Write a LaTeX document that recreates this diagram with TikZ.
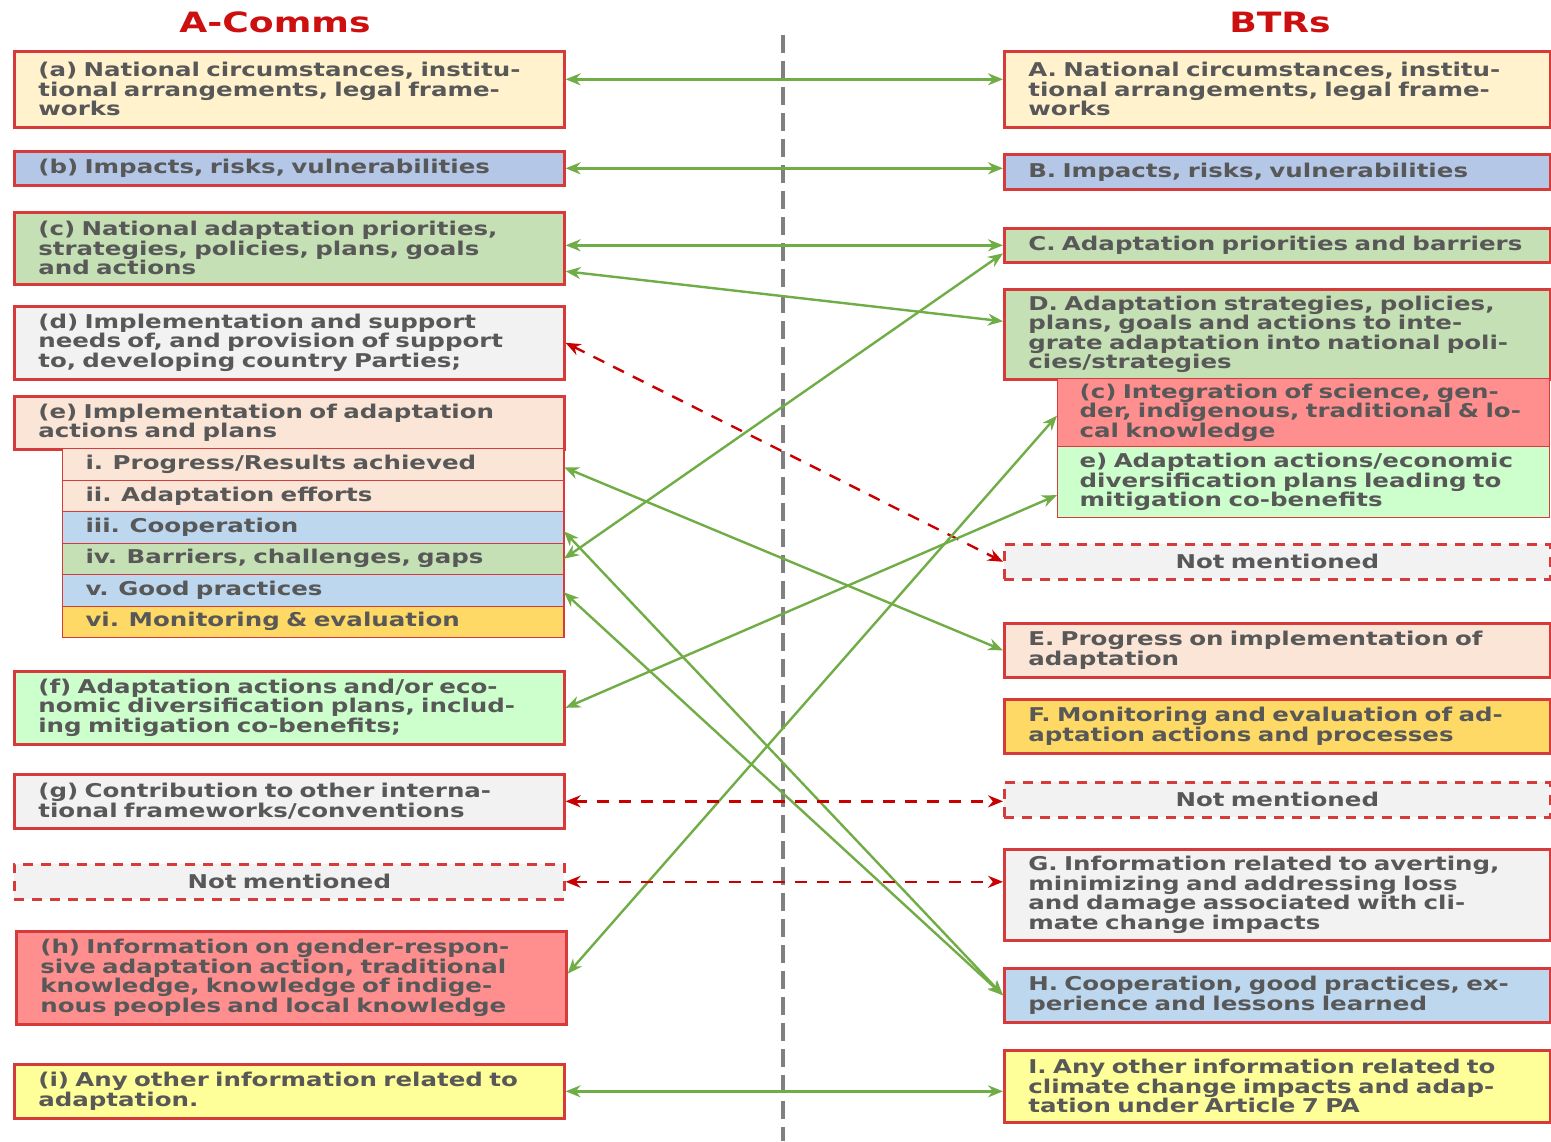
\documentclass[tikz,border=0pt]{standalone}
\usepackage{fontspec}
\usepackage{xcolor}
\usepackage{tikz}
\usetikzlibrary{positioning,arrows.meta,calc}
\newfontfamily\diagfont[FakeStretch=1.29]{DejaVu Sans}
\definecolor{boxred}{RGB}{214, 58, 58}
\definecolor{linkred}{RGB}{200, 0, 0}
\definecolor{linkgreen}{RGB}{112, 173, 71}
\definecolor{textgray}{RGB}{88, 88, 88}
\definecolor{titlered}{RGB}{204, 16, 16}
\definecolor{divgray}{RGB}{128, 128, 128}
\definecolor{creamfill}{RGB}{255, 242, 204}
\definecolor{bluefill}{RGB}{180, 199, 231}
\definecolor{skyfill}{RGB}{189, 215, 238}
\definecolor{greenfill}{RGB}{197, 224, 180}
\definecolor{mintfill}{RGB}{204, 255, 204}
\definecolor{grayfill}{RGB}{242, 242, 242}
\definecolor{peachfill}{RGB}{251, 229, 214}
\definecolor{goldfill}{RGB}{255, 217, 102}
\definecolor{pinkfill}{RGB}{255, 143, 143}
\definecolor{yellowfill}{RGB}{255, 255, 153}
\tikzset{
    item/.style={rectangle, draw=boxred, line width=1.3pt, text=textgray, anchor=north west,
        align=left, inner xsep=12pt, inner ysep=1pt,
        font=\diagfont\bfseries\fontsize{9.5}{9.75}\selectfont},
    left item/.style={item, text width=251pt},
    left sub/.style={item, line width=0.5pt, inner xsep=11.5pt, text width=227.5pt, minimum height=15.75pt},
    right item/.style={item, text width=249pt},
    right sub/.style={item, line width=0.6pt, inner xsep=11pt, text width=224pt},
    not mentioned/.style={fill=grayfill, align=center, dash pattern=on 5pt off 4pt},
    title/.style={text=titlered, font=\diagfont\bfseries\fontsize{14}{16}\selectfont},
    link/.style={{Stealth[length=7.5pt,width=6pt]}-{Stealth[length=7.5pt,width=6pt]}, line width=1.2pt, linkgreen},
    no link/.style={link, linkred, dash pattern=on 6pt off 5pt},
    divider/.style={divgray, line width=1.6pt, dash pattern=on 9pt off 4pt}
}
\begin{document}
\begin{tikzpicture}[x=0.5pt, y=-0.5pt]
\useasboundingbox (0,0) rectangle (1551,1141);

% column titles and divider
\node[title] (acomms) at (275,22) {A-Comms};
\node[title] (btrs) at (1280,22) {BTRs};
\coordinate (divtop) at (783,35);
\coordinate (divbot) at (783,1141);
\draw[divider] (divtop) -- (divbot);

% A-Comms
\node[left item, fill=creamfill, minimum height=38pt] (ca) at (13,50) {(a) National circumstances, institu-\\tional arrangements, legal frame-\\works};
\node[left item, fill=bluefill, minimum height=17pt] (cb) at (13,150) {(b) Impacts, risks, vulnerabilities};
\node[left item, fill=greenfill, minimum height=36pt] (cc) at (13,211) {(c) National adaptation priorities,\\strategies, policies, plans, goals\\and actions};
\node[left item, fill=grayfill, minimum height=36.5pt] (cd) at (13,305) {(d) Implementation and support\\needs of, and provision of support\\to, developing country Parties;};
\node[left item, fill=peachfill, minimum height=26.5pt] (ce) at (13,395) {(e) Implementation of adaptation\\actions and plans};
\node[left sub, fill=peachfill] (ce1) at (62,448) {i. Progress/Results achieved};
\node[left sub, fill=peachfill] (ce2) at (62,479.5) {ii. Adaptation efforts};
\node[left sub, fill=skyfill] (ce3) at (62,511) {iii. Cooperation};
\node[left sub, fill=greenfill] (ce4) at (62,542.5) {iv. Barriers, challenges, gaps};
\node[left sub, fill=skyfill] (ce5) at (62,574) {v. Good practices};
\node[left sub, fill=goldfill] (ce6) at (62,605.5) {vi. Monitoring \& evaluation};
\draw[boxred, line width=1.3pt] (ce1.north east) -- (ce6.south east);
\node[left item, fill=mintfill, minimum height=36.5pt] (cf) at (13,670) {(f) Adaptation actions and/or eco-\\nomic diversification plans, includ-\\ing mitigation co-benefits;};
\node[left item, fill=grayfill, minimum height=27pt] (cg) at (13,773) {(g) Contribution to other interna-\\tional frameworks/conventions};
\node[left item, not mentioned, minimum height=17.5pt] (cnm) at (13,863) {Not mentioned};
\node[left item, fill=pinkfill, minimum height=46.5pt] (ch) at (15,930) {(h) Information on gender-respon-\\sive adaptation action, traditional\\knowledge, knowledge of indige-\\nous peoples and local knowledge};
\node[left item, fill=yellowfill, minimum height=27pt] (ci) at (13,1063) {(i) Any other information related to\\adaptation.};

% BTRs
\node[right item, fill=creamfill, minimum height=38pt] (bA) at (1003,50) {A. National circumstances, institu-\\tional arrangements, legal frame-\\works};
\node[right item, fill=bluefill, minimum height=17.5pt] (bB) at (1003,153) {B. Impacts, risks, vulnerabilities};
\node[right item, fill=greenfill, minimum height=17pt] (bC) at (1003,227) {C. Adaptation priorities and barriers};
\node[right item, fill=greenfill, minimum height=45pt] (bD) at (1003,288) {D. Adaptation strategies, policies,\\plans, goals and actions to inte-\\grate adaptation into national poli-\\cies/strategies};
\node[right sub, fill=pinkfill, minimum height=34pt] (bDc) at (1057,378) {(c) Integration of science, gen-\\der, indigenous, traditional \& lo-\\cal knowledge};
\node[right sub, fill=mintfill, minimum height=35.5pt] (bDe) at (1057,446) {e) Adaptation actions/economic\\diversification plans leading to\\mitigation co-benefits};
\node[right item, not mentioned, minimum height=17.5pt] (bnm1) at (1003,543) {Not mentioned};
\node[right item, fill=peachfill, minimum height=27pt] (bE) at (1003,622) {E. Progress on implementation of\\adaptation};
\node[right item, fill=goldfill, minimum height=27pt] (bF) at (1003,698) {F. Monitoring and evaluation of ad-\\aptation actions and processes};
\node[right item, not mentioned, minimum height=17.5pt] (bnm2) at (1003,781) {Not mentioned};
\node[right item, fill=grayfill, minimum height=45.5pt] (bG) at (1003,848) {G. Information related to averting,\\minimizing and addressing loss\\and damage associated with cli-\\mate change impacts};
\node[right item, fill=skyfill, minimum height=27pt] (bH) at (1003,967) {H. Cooperation, good practices, ex-\\perience and lessons learned};
\node[right item, fill=yellowfill, minimum height=36pt] (bI) at (1003,1049) {I. Any other information related to\\climate change impacts and adap-\\tation under Article 7 PA};

% links
\draw[link] ($(ca.east)+(0,-10)$) -- ($(bA.west)+(0,-10)$);
\draw[link] (cb.east) -- (cb.east -| bB.west);
\draw[link] (cc.east |- bC.west) -- (bC.west);
\draw[link] ($(cc.east)+(0,23)$) -- ($(bD.west)+(0,-13)$);
\draw[no link] (cd.east) -- (bnm1.west);
\draw[link] (ce4.east) -- ($(bC.west)+(0,8)$);
\draw[link] ($(ce1.east)+(0,3)$) -- (bE.west);
\draw[link] ($(ce3.east)+(0,4)$) -- (bH.west);
\draw[link] ($(ce5.east)+(0,2)$) -- (bH.west);
\draw[link] (cf.east) -- ($(bDe.west)+(0,13)$);
\draw[link] ($(ch.east)+(0,-4)$) -- ($(bDc.west)+(0,3)$);
\draw[no link] (cg.east) -- (cg.east -| bnm2.west);
\draw[no link] (cnm.east) -- (cnm.east -| bG.west);
\draw[link] (ci.east) -- (ci.east -| bI.west);
\end{tikzpicture}
\end{document}
